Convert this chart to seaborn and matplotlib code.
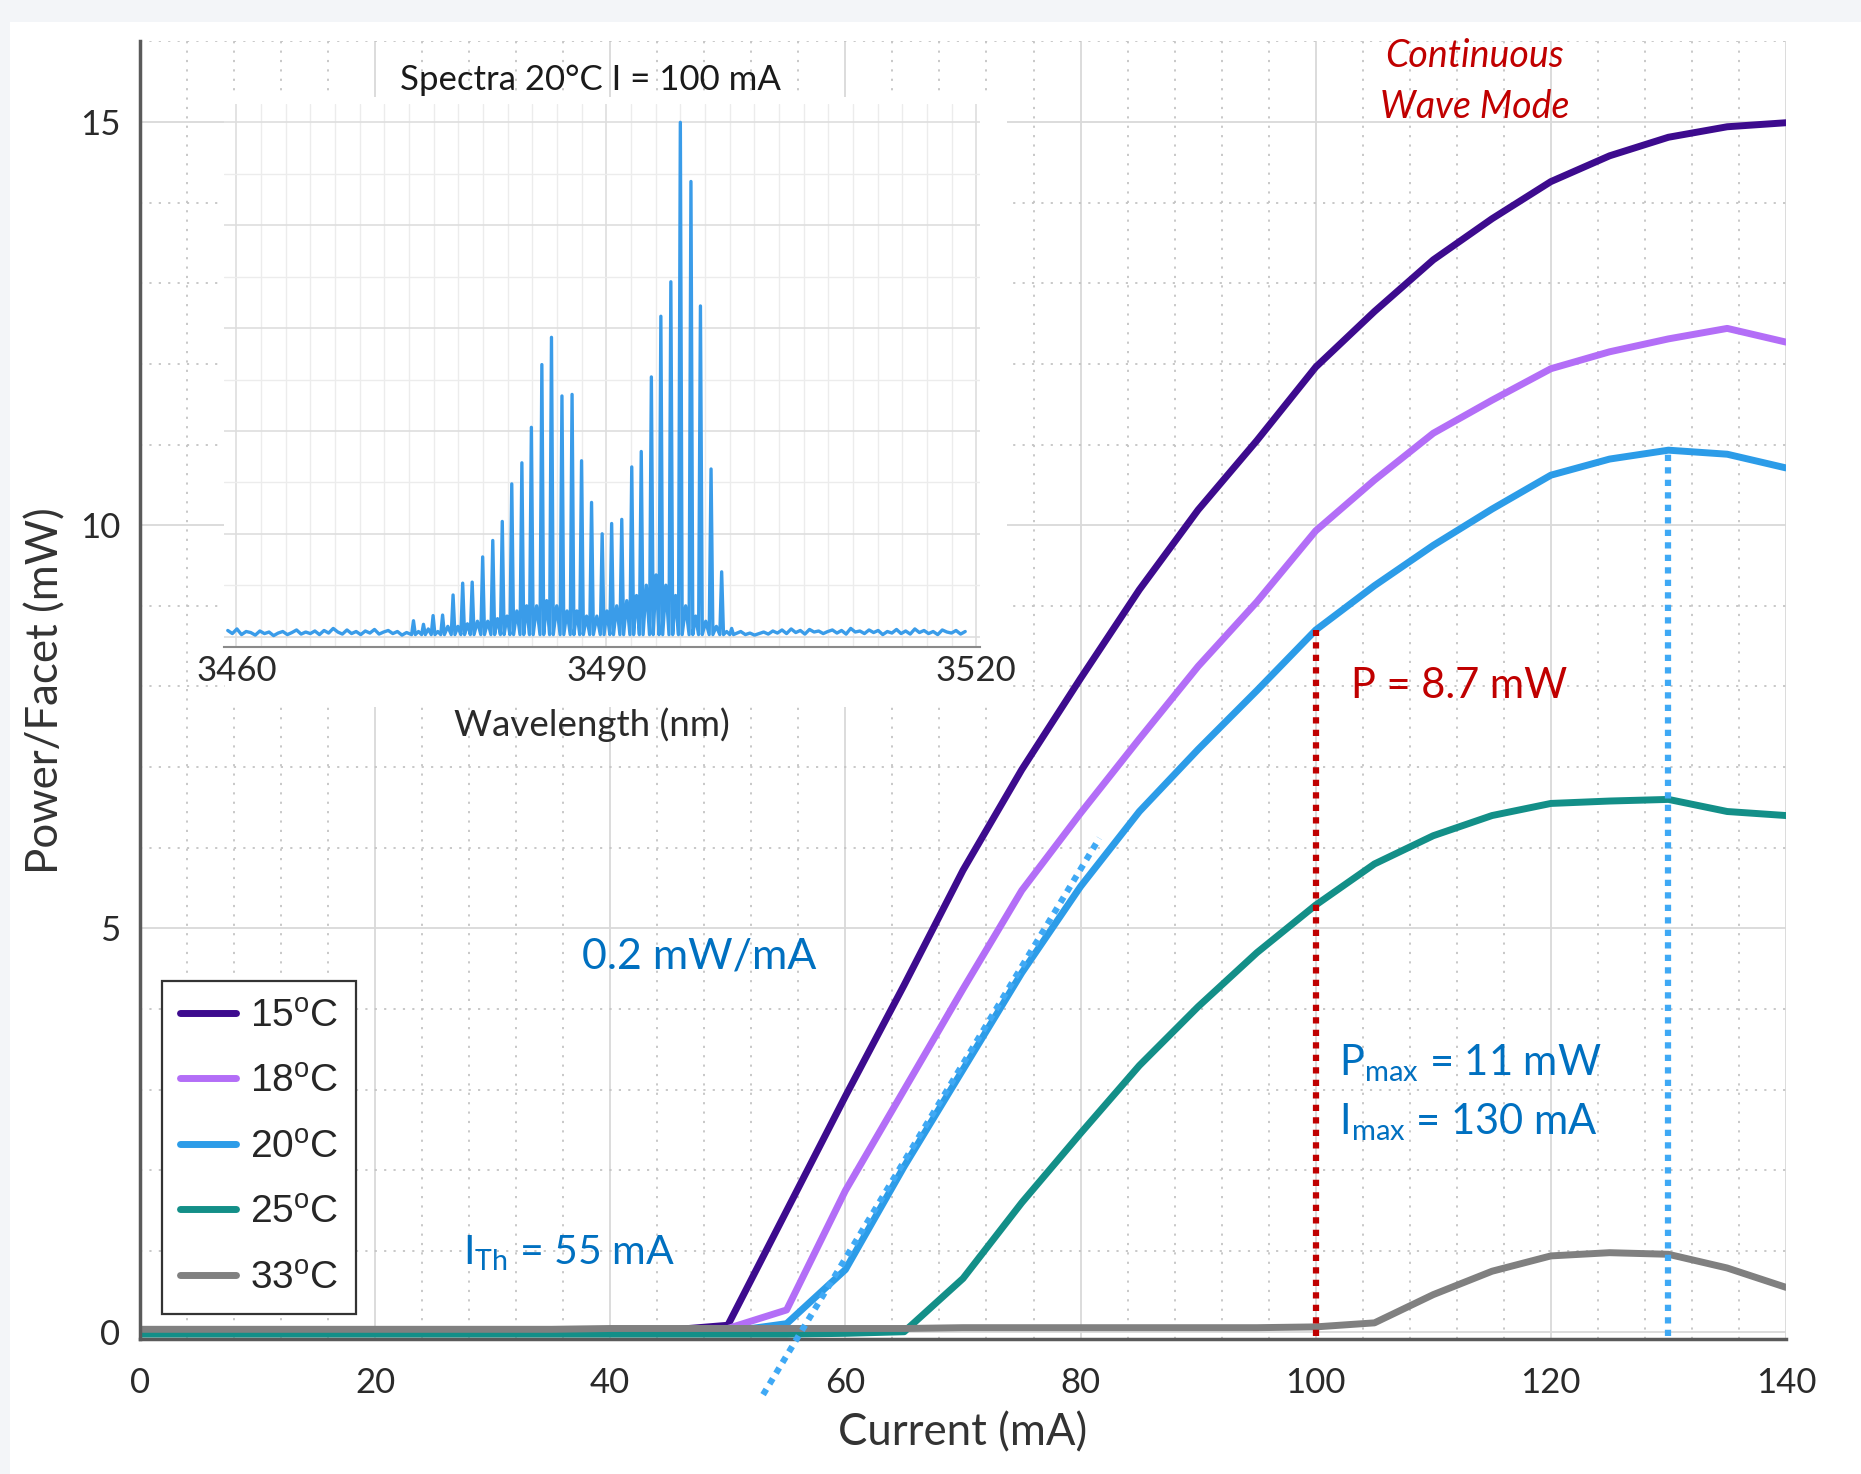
import numpy as np
import pandas as pd
import matplotlib.pyplot as plt
import matplotlib.patches as mpatches
from matplotlib.ticker import MultipleLocator
import seaborn as sns

sns.set_theme(style="white")
plt.rcParams['font.family'] = ['Lato', 'DejaVu Sans']
plt.rcParams['mathtext.default'] = 'regular'

# L-I curves, one value per 5 mA step
current = [0, 5, 10, 15, 20, 25, 30, 35, 40, 45, 50, 55, 60, 65, 70, 75, 80,
           85, 90, 95, 100, 105, 110, 115, 120, 125, 130, 135, 140]
p15 = [0.00, 0.00, 0.00, 0.00, 0.00, 0.00, 0.00, 0.01, 0.01, 0.02, 0.08, 1.50, 2.92,
       4.30, 5.72, 6.97, 8.10, 9.20, 10.19, 11.05, 11.96, 12.65, 13.29, 13.80, 14.26,
       14.58, 14.81, 14.94, 14.99]
p18 = [0.00, 0.00, 0.00, 0.00, 0.00, 0.00, 0.00, 0.01, 0.01, 0.02, 0.04, 0.27, 1.75,
       3.00, 4.25, 5.47, 6.43, 7.35, 8.25, 9.05, 9.93, 10.56, 11.14, 11.55, 11.94,
       12.15, 12.31, 12.44, 12.27]
p20 = [-0.02, -0.02, -0.02, -0.02, -0.02, -0.01, -0.01, -0.01, 0.00, 0.00, 0.00, 0.10,
       0.77, 2.05, 3.25, 4.45, 5.52, 6.45, 7.22, 7.95, 8.70, 9.25, 9.75, 10.20, 10.62,
       10.82, 10.93, 10.88, 10.71]
p25 = [-0.03, -0.03, -0.03, -0.03, -0.03, -0.03, -0.03, -0.03, -0.03, -0.03, -0.03,
       -0.03, -0.02, 0.00, 0.66, 1.60, 2.46, 3.30, 4.03, 4.70, 5.29, 5.80, 6.15, 6.40,
       6.55, 6.58, 6.60, 6.45, 6.40]
p33 = [0.03, 0.03, 0.03, 0.03, 0.03, 0.03, 0.03, 0.03, 0.04, 0.04, 0.04, 0.04, 0.04,
       0.04, 0.05, 0.05, 0.05, 0.05, 0.05, 0.05, 0.06, 0.11, 0.46, 0.75, 0.94, 0.98,
       0.96, 0.79, 0.55]
temps = ['15', '18', '20', '25', '33']
colors = ['#3d0b8e', '#b36ef7', '#2c9ce8', '#138f88', '#808080']

# annotation guides
slope_x = [53.0, 81.6]
slope_y = [-0.78, 6.12]
p_at_100 = 8.7
p_max_20 = 10.93

# spectrum inset (20 C, 100 mA): mode peaks, small humps between modes, noisy floor
peak_nm = [3474.36, 3475.17, 3475.95, 3476.72, 3477.57, 3478.35, 3479.12, 3479.97,
           3480.79, 3481.56, 3482.33, 3483.15, 3483.92, 3484.77, 3485.55, 3486.40,
           3487.22, 3487.99, 3488.80, 3489.66, 3490.43, 3491.25, 3492.06, 3492.83,
           3493.65, 3494.42, 3495.23, 3496.00, 3496.86, 3497.63, 3498.49, 3499.35,
           3500.16]
peak_h = [0.031, 0.024, 0.041, 0.042, 0.081, 0.104, 0.106, 0.155, 0.187, 0.224, 0.297,
          0.338, 0.407, 0.529, 0.582, 0.468, 0.471, 0.342, 0.261, 0.200, 0.220, 0.228,
          0.330, 0.360, 0.505, 0.623, 0.690, 1.000, 0.885, 0.643, 0.326, 0.126, 0.016]
gap_h = [0.010, 0.015, 0.010, 0.020, 0.020, 0.025, 0.030, 0.030, 0.035, 0.040, 0.050,
         0.060, 0.060, 0.070, 0.060, 0.050, 0.050, 0.040, 0.040, 0.050, 0.060, 0.070,
         0.080, 0.100, 0.120, 0.100, 0.080, 0.060, 0.040, 0.030, 0.020, 0.010]
floor_left = [0.012, 0.006, 0.015, 0.004, 0.010, 0.008, 0.003, 0.011, 0.006, 0.009,
              0.002, 0.007, 0.010, 0.004, 0.008, 0.013, 0.005, 0.009, 0.006, 0.011,
              0.004, 0.012, 0.007, 0.016, 0.009, 0.005, 0.013, 0.006, 0.010, 0.004,
              0.011, 0.007, 0.014, 0.005, 0.009, 0.012, 0.006, 0.010, 0.003, 0.008]
floor_right = [0.010, 0.004, 0.007, 0.003, 0.006, 0.009, 0.005, 0.011, 0.007, 0.013,
               0.006, 0.015, 0.008, 0.012, 0.005, 0.014, 0.009, 0.011, 0.006, 0.010,
               0.013, 0.007, 0.012, 0.005, 0.016, 0.009, 0.011, 0.006, 0.013, 0.008,
               0.012, 0.004, 0.010, 0.007, 0.014, 0.006, 0.011, 0.005, 0.015, 0.008,
               0.012, 0.006, 0.010, 0.004, 0.013, 0.009, 0.007, 0.012, 0.005, 0.010]
floor_left_nm = np.linspace(3459.3, 3473.8, len(floor_left))
floor_right_nm = np.linspace(3500.9, 3519.1, len(floor_right))

# long-form table for seaborn
df = pd.DataFrame({
    'Current': current * 5,
    'Power': p15 + p18 + p20 + p25 + p33,
    'Temp': [t for t in temps for _ in current],
})

spec_x, spec_y = list(floor_left_nm), list(floor_left)
for i, (px, ph) in enumerate(zip(peak_nm, peak_h)):
    spec_x += [px - 0.15, px, px + 0.15]
    spec_y += [0.004, ph, 0.004]
    if i < len(peak_nm) - 1:
        spec_x.append((px + peak_nm[i + 1]) / 2)
        spec_y.append(gap_h[i])
spec_x += list(floor_right_nm)
spec_y += list(floor_right)
spec = pd.DataFrame({'nm': spec_x, 'I': spec_y})

BLUE_TXT = '#0070c0'
RED_TXT = '#c00000'

fig = plt.figure(figsize=(18.61, 14.74), dpi=100, facecolor='#f3f5f8')
fig.patches.append(mpatches.Rectangle((10 / 1861, 0), 1, 1 - 22 / 1474,
                                      transform=fig.transFigure, facecolor='white',
                                      edgecolor='none', zorder=-1))
ax = fig.add_axes([0.0752, 0.0916, 0.8845, 0.8804])
ax.set_zorder(0)

sns.lineplot(data=df, x='Current', y='Power', hue='Temp', hue_order=temps,
             palette=colors, linewidth=5, legend=False, ax=ax)

ax.set_xlim(0, 140)
ax.set_ylim(-0.09, 16)
ax.xaxis.set_major_locator(MultipleLocator(20))
ax.xaxis.set_minor_locator(MultipleLocator(4))
ax.yaxis.set_major_locator(MultipleLocator(5))
ax.yaxis.set_minor_locator(MultipleLocator(1))
ax.grid(which='major', color='#d9d9d9', lw=1.3, ls='-')
ax.grid(which='minor', color='#c4c4c4', lw=1.3, ls=(0, (1.2, 4)))
ax.set_axisbelow(True)
for s in ['top', 'right']:
    ax.spines[s].set_visible(False)
for s in ['left', 'bottom']:
    ax.spines[s].set_color('#5a5a5a')
    ax.spines[s].set_linewidth(2.5)
ax.tick_params(which='major', direction='in', length=11, width=2, color='#404040',
               labelsize=25, labelcolor='#2a2a2a')
ax.tick_params(axis='x', which='major', pad=20)
ax.tick_params(axis='y', which='major', pad=14)
ax.tick_params(which='minor', length=0)

ax.set_xlabel('Current (mA)', fontsize=31.5, color='#333333')
ax.set_ylabel('Power/Facet (mW)', fontsize=31.5, color='#333333')
ax.xaxis.set_label_coords(0.5, -0.0724)
ax.xaxis.label.set_verticalalignment('center')
ax.yaxis.set_label_coords(-0.057, 0.5)
ax.yaxis.label.set_verticalalignment('center')

# guides
ax.plot([100, 100], [-0.05, p_at_100], color=RED_TXT, lw=4.5, ls=(0, (1, 1)), zorder=3)
ax.plot([130, 130], [-0.05, p_max_20], color='#3fa9f5', lw=4.5, ls=(0, (1, 1)), zorder=3)
ax.plot(slope_x, slope_y, color='#3fa9f5', lw=4.5, ls=(0, (1, 1)), zorder=3, clip_on=False)

ax.text(113.5, 15.5, 'Continuous\nWave Mode', color=RED_TXT, fontsize=27, style='italic',
        ha='center', va='center', linespacing=1.5)
ax.text(103.0, 8.0, 'P = 8.7 mW', color=RED_TXT, fontsize=30, va='center')
ax.text(37.6, 4.65, '0.2 mW/mA', color=BLUE_TXT, fontsize=31, va='center')
ax.text(27.5, 0.97, r'$I_{Th}$ = 55 mA', color=BLUE_TXT, fontsize=29.5, va='center')
ax.text(102.0, 3.33, r'$P_{max}$ = 11 mW', color=BLUE_TXT, fontsize=30, va='center')
ax.text(102.0, 2.60, r'$I_{max}$ = 130 mA', color=BLUE_TXT, fontsize=30, va='center')

handles = ax.lines[:5]
labels = [r'$%s^{o}C$' % t for t in temps]
leg = ax.legend(handles, labels, loc='lower left', bbox_to_anchor=(0.0137, 0.0193),
                borderaxespad=0, prop={'family': 'Liberation Sans', 'size': 28},
                handlelength=1.45, handletextpad=0.35, labelspacing=0.76, borderpad=0.45,
                fancybox=False, framealpha=1, edgecolor='#333333')
leg.get_frame().set_linewidth(1.6)

# white block behind the inset
fig.patches.append(mpatches.Rectangle((225 / 1861, 0.5204), 0.4202, 0.4138,
                                      transform=fig.transFigure, facecolor='white',
                                      edgecolor='none', zorder=1))

ax_in = fig.add_axes([0.1204, 0.5611, 0.4062, 0.3681])
ax_in.set_zorder(2)
sns.lineplot(data=spec, x='nm', y='I', sort=False, estimator=None, color='#3a9ce9',
             linewidth=2.4, ax=ax_in)
ax_in.set_xlim(3459, 3520.3)
ax_in.set_ylim(-0.02, 1.035)
ax_in.set_xticks([3460, 3490, 3520])
ax_in.xaxis.set_minor_locator(MultipleLocator(2))
ax_in.yaxis.set_major_locator(MultipleLocator(0.2))
ax_in.yaxis.set_minor_locator(MultipleLocator(0.1))
ax_in.set_yticklabels([])
ax_in.grid(which='major', color='#dedede', lw=1.2)
ax_in.grid(which='minor', color='#ececec', lw=1.0)
ax_in.set_axisbelow(True)
for s in ['top', 'right', 'left']:
    ax_in.spines[s].set_visible(False)
ax_in.spines['bottom'].set_color('#8a8a8a')
ax_in.spines['bottom'].set_linewidth(1.5)
ax_in.tick_params(axis='x', which='major', direction='in', length=5, color='#8a8a8a',
                  labelsize=25, labelcolor='#2a2a2a', pad=6)
ax_in.tick_params(which='minor', length=0)
ax_in.tick_params(axis='y', length=0)
ax_in.set_xlabel('Wavelength (nm)', fontsize=26.5, color='#2a2a2a')
ax_in.set_ylabel('')
ax_in.xaxis.set_label_coords(0.487, -0.144)
ax_in.xaxis.label.set_verticalalignment('center')
ax_in.text(0.484, 1.045, 'Spectra 20°C I = 100 mA', transform=ax_in.transAxes,
           fontsize=25, color='#1a1a1a', ha='center', va='center')

fig.savefig('out.png', dpi=100, facecolor=fig.get_facecolor())
